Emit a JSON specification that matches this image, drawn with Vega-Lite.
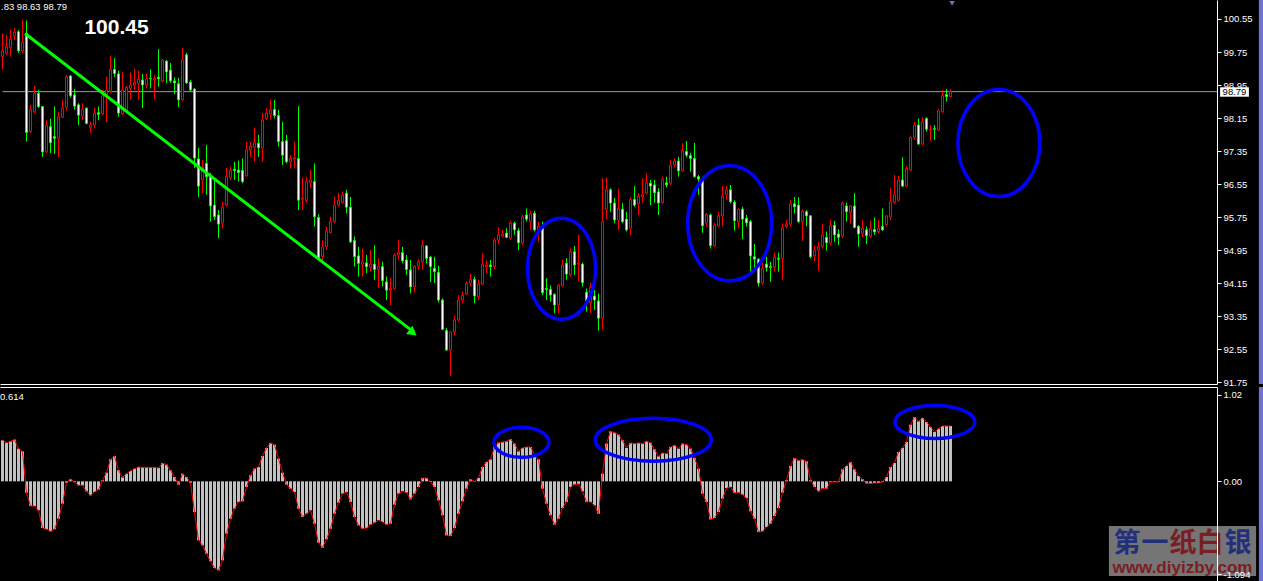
{
"$schema":"https://vega.github.io/schema/vega-lite/v6.json",
"background":"#000000",
"padding":0,
"bounds":"flush",
"spacing":3,
"config":{"view":{"stroke":null},"axis":{"grid":false,"labelOverlap":false},"scale":{"continuousPadding":0}},
"datasets":{
"candles":[
{"i":0,"o":99.64,"h":100.20,"l":99.33,"c":99.78},
{"i":1,"o":99.72,"h":100.16,"l":99.68,"c":99.88},
{"i":2,"o":99.86,"h":100.28,"l":99.64,"c":100.06},
{"i":3,"o":100.14,"h":100.33,"l":100.04,"c":100.23},
{"i":4,"o":100.24,"h":100.28,"l":99.73,"c":99.78},
{"i":5,"o":99.77,"h":100.53,"l":99.73,"c":99.99},
{"i":6,"o":100.20,"h":100.51,"l":97.58,"c":97.80},
{"i":7,"o":97.82,"h":98.47,"l":97.79,"c":98.35},
{"i":8,"o":98.30,"h":98.93,"l":98.27,"c":98.75},
{"i":9,"o":98.75,"h":98.83,"l":98.39,"c":98.43},
{"i":10,"o":98.43,"h":98.44,"l":97.21,"c":97.33},
{"i":11,"o":97.33,"h":98.10,"l":97.31,"c":97.98},
{"i":12,"o":97.94,"h":98.13,"l":97.30,"c":97.55},
{"i":13,"o":97.70,"h":98.43,"l":97.28,"c":97.66},
{"i":14,"o":97.66,"h":98.30,"l":97.20,"c":98.18},
{"i":15,"o":98.17,"h":98.59,"l":98.15,"c":98.39},
{"i":16,"o":98.41,"h":99.19,"l":98.33,"c":99.15},
{"i":17,"o":99.17,"h":99.19,"l":98.65,"c":98.69},
{"i":18,"o":98.71,"h":98.85,"l":98.35,"c":98.44},
{"i":19,"o":98.47,"h":98.51,"l":97.98,"c":98.22},
{"i":20,"o":98.20,"h":98.51,"l":98.10,"c":98.36},
{"i":21,"o":98.39,"h":98.41,"l":98.00,"c":98.02},
{"i":22,"o":97.92,"h":98.06,"l":97.79,"c":97.98},
{"i":23,"o":97.98,"h":98.41,"l":97.90,"c":98.27},
{"i":24,"o":98.28,"h":98.43,"l":98.10,"c":98.24},
{"i":25,"o":98.25,"h":98.83,"l":98.22,"c":98.69},
{"i":26,"o":98.67,"h":99.15,"l":98.05,"c":98.83},
{"i":27,"o":98.79,"h":99.65,"l":98.75,"c":99.33},
{"i":28,"o":99.33,"h":99.60,"l":99.15,"c":99.23},
{"i":29,"o":99.22,"h":99.30,"l":98.18,"c":98.27},
{"i":30,"o":98.25,"h":99.27,"l":98.22,"c":98.83},
{"i":31,"o":98.30,"h":98.93,"l":98.27,"c":98.89},
{"i":32,"o":98.87,"h":99.25,"l":98.59,"c":98.95},
{"i":33,"o":98.95,"h":99.34,"l":98.83,"c":99.01},
{"i":34,"o":98.98,"h":99.30,"l":98.59,"c":99.09},
{"i":35,"o":99.07,"h":99.22,"l":98.39,"c":98.95},
{"i":36,"o":98.95,"h":99.23,"l":98.87,"c":99.10},
{"i":37,"o":99.11,"h":99.33,"l":98.87,"c":99.10},
{"i":38,"o":99.07,"h":99.19,"l":98.61,"c":99.11},
{"i":39,"o":99.14,"h":99.82,"l":98.91,"c":99.10},
{"i":40,"o":99.05,"h":99.58,"l":99.02,"c":99.56},
{"i":41,"o":99.53,"h":99.56,"l":99.00,"c":99.27},
{"i":42,"o":99.31,"h":99.48,"l":99.00,"c":99.05},
{"i":43,"o":99.05,"h":99.14,"l":98.73,"c":99.00},
{"i":44,"o":98.98,"h":99.12,"l":98.42,"c":98.59},
{"i":45,"o":98.59,"h":99.85,"l":98.56,"c":99.56},
{"i":46,"o":99.68,"h":99.73,"l":98.98,"c":99.00},
{"i":47,"o":99.02,"h":99.07,"l":98.78,"c":98.83},
{"i":48,"o":98.85,"h":98.88,"l":96.94,"c":97.18},
{"i":49,"o":97.16,"h":97.43,"l":96.24,"c":96.50},
{"i":50,"o":96.65,"h":97.13,"l":96.33,"c":96.96},
{"i":51,"o":97.05,"h":97.50,"l":96.29,"c":96.73},
{"i":52,"o":96.73,"h":96.82,"l":95.64,"c":96.02},
{"i":53,"o":96.04,"h":96.70,"l":95.68,"c":95.76},
{"i":54,"o":95.80,"h":95.92,"l":95.24,"c":95.58},
{"i":55,"o":95.60,"h":96.12,"l":95.48,"c":96.00},
{"i":56,"o":96.04,"h":96.94,"l":96.00,"c":96.73},
{"i":57,"o":96.71,"h":96.97,"l":96.65,"c":96.89},
{"i":58,"o":96.91,"h":97.09,"l":96.65,"c":96.88},
{"i":59,"o":96.89,"h":97.12,"l":96.61,"c":96.83},
{"i":60,"o":96.88,"h":97.17,"l":96.57,"c":96.61},
{"i":61,"o":96.75,"h":97.58,"l":96.73,"c":97.38},
{"i":62,"o":97.38,"h":97.58,"l":97.21,"c":97.47},
{"i":63,"o":97.44,"h":97.92,"l":97.09,"c":97.56},
{"i":64,"o":97.54,"h":97.74,"l":97.21,"c":97.43},
{"i":65,"o":97.42,"h":98.27,"l":97.09,"c":98.10},
{"i":66,"o":98.14,"h":98.39,"l":98.10,"c":98.27},
{"i":67,"o":98.25,"h":98.59,"l":98.10,"c":98.35},
{"i":68,"o":98.36,"h":98.59,"l":98.14,"c":98.21},
{"i":69,"o":98.21,"h":98.35,"l":97.46,"c":97.58},
{"i":70,"o":97.58,"h":98.06,"l":97.01,"c":97.25},
{"i":71,"o":97.60,"h":97.74,"l":97.05,"c":97.09},
{"i":72,"o":97.09,"h":97.25,"l":96.93,"c":97.17},
{"i":73,"o":97.16,"h":97.58,"l":96.93,"c":97.19},
{"i":74,"o":97.17,"h":98.44,"l":95.92,"c":96.16},
{"i":75,"o":96.18,"h":96.71,"l":95.92,"c":96.22},
{"i":76,"o":96.15,"h":96.73,"l":96.10,"c":96.61},
{"i":77,"o":96.58,"h":96.89,"l":96.45,"c":96.65},
{"i":78,"o":96.61,"h":97.05,"l":95.52,"c":95.76},
{"i":79,"o":95.74,"h":95.82,"l":94.71,"c":94.75},
{"i":80,"o":94.79,"h":95.19,"l":94.71,"c":95.03},
{"i":81,"o":95.03,"h":95.52,"l":94.95,"c":95.42},
{"i":82,"o":95.37,"h":95.76,"l":95.36,"c":95.64},
{"i":83,"o":95.64,"h":96.24,"l":95.60,"c":96.04},
{"i":84,"o":96.04,"h":96.34,"l":96.00,"c":96.16},
{"i":85,"o":96.10,"h":96.37,"l":96.08,"c":96.29},
{"i":86,"o":96.33,"h":96.41,"l":95.84,"c":95.99},
{"i":87,"o":95.99,"h":96.24,"l":95.12,"c":95.15},
{"i":88,"o":95.18,"h":95.28,"l":94.55,"c":94.79},
{"i":89,"o":94.81,"h":95.03,"l":94.31,"c":94.63},
{"i":90,"o":94.61,"h":94.99,"l":94.31,"c":94.67},
{"i":91,"o":94.64,"h":94.83,"l":94.39,"c":94.55},
{"i":92,"o":94.53,"h":94.95,"l":94.43,"c":94.61},
{"i":93,"o":94.61,"h":95.07,"l":94.23,"c":94.48},
{"i":94,"o":94.48,"h":94.75,"l":94.03,"c":94.56},
{"i":95,"o":94.55,"h":94.67,"l":94.07,"c":94.21},
{"i":96,"o":94.18,"h":94.31,"l":93.74,"c":93.98},
{"i":97,"o":93.98,"h":94.27,"l":93.62,"c":94.02},
{"i":98,"o":94.02,"h":94.87,"l":94.00,"c":94.83},
{"i":99,"o":94.83,"h":95.19,"l":94.71,"c":94.90},
{"i":100,"o":94.89,"h":95.03,"l":94.63,"c":94.69},
{"i":101,"o":94.71,"h":94.83,"l":94.35,"c":94.48},
{"i":102,"o":94.47,"h":94.71,"l":93.90,"c":94.06},
{"i":103,"o":94.06,"h":94.59,"l":93.92,"c":94.56},
{"i":104,"o":94.56,"h":94.73,"l":94.47,"c":94.67},
{"i":105,"o":94.67,"h":95.19,"l":94.47,"c":95.07},
{"i":106,"o":95.05,"h":95.07,"l":94.63,"c":94.75},
{"i":107,"o":94.78,"h":94.81,"l":94.18,"c":94.55},
{"i":108,"o":94.51,"h":94.79,"l":94.15,"c":94.43},
{"i":109,"o":94.41,"h":94.57,"l":93.68,"c":93.74},
{"i":110,"o":93.74,"h":93.78,"l":93.01,"c":93.03},
{"i":111,"o":93.00,"h":93.06,"l":92.51,"c":92.53},
{"i":112,"o":92.53,"h":92.97,"l":91.90,"c":92.97},
{"i":113,"o":92.97,"h":93.35,"l":92.89,"c":93.26},
{"i":114,"o":93.26,"h":93.86,"l":93.22,"c":93.74},
{"i":115,"o":93.74,"h":93.94,"l":93.66,"c":93.86},
{"i":116,"o":93.89,"h":94.19,"l":93.86,"c":94.15},
{"i":117,"o":94.15,"h":94.37,"l":94.07,"c":94.24},
{"i":118,"o":94.24,"h":94.31,"l":93.66,"c":93.84},
{"i":119,"o":93.82,"h":94.23,"l":93.74,"c":94.13},
{"i":120,"o":94.13,"h":94.87,"l":94.11,"c":94.61},
{"i":121,"o":94.55,"h":94.70,"l":94.39,"c":94.59},
{"i":122,"o":94.59,"h":94.71,"l":94.31,"c":94.55},
{"i":123,"o":94.55,"h":95.24,"l":94.49,"c":95.19},
{"i":124,"o":95.19,"h":95.50,"l":95.10,"c":95.32},
{"i":125,"o":95.29,"h":95.44,"l":95.26,"c":95.34},
{"i":126,"o":95.36,"h":95.48,"l":95.24,"c":95.26},
{"i":127,"o":95.24,"h":95.66,"l":95.19,"c":95.61},
{"i":128,"o":95.60,"h":95.64,"l":95.32,"c":95.44},
{"i":129,"o":95.42,"h":95.48,"l":94.95,"c":95.13},
{"i":130,"o":95.12,"h":95.80,"l":95.07,"c":95.76},
{"i":131,"o":95.80,"h":95.96,"l":95.64,"c":95.70},
{"i":132,"o":95.64,"h":95.91,"l":95.44,"c":95.83},
{"i":133,"o":95.84,"h":95.90,"l":95.40,"c":95.44},
{"i":134,"o":95.44,"h":95.64,"l":95.15,"c":95.53},
{"i":135,"o":95.52,"h":95.64,"l":93.86,"c":93.92},
{"i":136,"o":94.02,"h":94.27,"l":93.74,"c":94.00},
{"i":137,"o":94.00,"h":94.10,"l":93.70,"c":93.86},
{"i":138,"o":93.88,"h":93.90,"l":93.42,"c":93.62},
{"i":139,"o":93.62,"h":94.13,"l":93.42,"c":94.10},
{"i":140,"o":94.08,"h":94.71,"l":94.07,"c":94.59},
{"i":141,"o":94.63,"h":94.75,"l":94.23,"c":94.37},
{"i":142,"o":94.35,"h":94.99,"l":94.31,"c":94.91},
{"i":143,"o":94.91,"h":95.05,"l":94.35,"c":94.59},
{"i":144,"o":94.61,"h":95.32,"l":94.19,"c":94.63},
{"i":145,"o":94.61,"h":94.65,"l":94.07,"c":94.16},
{"i":146,"o":93.93,"h":94.02,"l":93.46,"c":93.68},
{"i":147,"o":93.68,"h":94.15,"l":93.42,"c":94.05},
{"i":148,"o":93.84,"h":93.98,"l":93.50,"c":93.74},
{"i":149,"o":93.72,"h":93.90,"l":93.00,"c":93.30},
{"i":150,"o":93.30,"h":96.69,"l":93.03,"c":95.64},
{"i":151,"o":95.94,"h":96.71,"l":95.70,"c":96.41},
{"i":152,"o":96.41,"h":96.45,"l":95.88,"c":96.09},
{"i":153,"o":96.09,"h":96.21,"l":95.60,"c":95.68},
{"i":154,"o":95.68,"h":96.42,"l":95.44,"c":95.96},
{"i":155,"o":95.94,"h":96.09,"l":95.60,"c":95.64},
{"i":156,"o":95.70,"h":95.88,"l":95.40,"c":95.44},
{"i":157,"o":95.48,"h":96.24,"l":95.32,"c":96.18},
{"i":158,"o":96.18,"h":96.50,"l":96.00,"c":96.04},
{"i":159,"o":96.07,"h":96.33,"l":95.80,"c":96.26},
{"i":160,"o":96.24,"h":96.69,"l":96.10,"c":96.29},
{"i":161,"o":96.33,"h":96.81,"l":96.29,"c":96.58},
{"i":162,"o":96.57,"h":96.65,"l":96.04,"c":96.50},
{"i":163,"o":96.53,"h":96.65,"l":96.10,"c":96.34},
{"i":164,"o":96.36,"h":96.45,"l":95.80,"c":96.09},
{"i":165,"o":96.10,"h":96.73,"l":96.07,"c":96.67},
{"i":166,"o":96.58,"h":96.73,"l":96.47,"c":96.53},
{"i":167,"o":96.57,"h":97.13,"l":96.53,"c":97.01},
{"i":168,"o":97.01,"h":97.17,"l":96.96,"c":97.11},
{"i":169,"o":97.11,"h":97.21,"l":96.73,"c":96.87},
{"i":170,"o":96.87,"h":97.54,"l":96.85,"c":97.36},
{"i":171,"o":97.34,"h":97.59,"l":97.20,"c":97.25},
{"i":172,"o":97.24,"h":97.31,"l":96.85,"c":97.17},
{"i":173,"o":97.17,"h":97.55,"l":96.71,"c":96.73},
{"i":174,"o":96.73,"h":96.77,"l":96.29,"c":96.67},
{"i":175,"o":96.65,"h":96.73,"l":95.37,"c":95.54},
{"i":176,"o":95.60,"h":95.84,"l":95.52,"c":95.82},
{"i":177,"o":95.80,"h":95.84,"l":94.99,"c":95.06},
{"i":178,"o":95.06,"h":95.61,"l":95.03,"c":95.56},
{"i":179,"o":95.53,"h":95.88,"l":95.52,"c":95.78},
{"i":180,"o":95.78,"h":96.50,"l":95.53,"c":96.26},
{"i":181,"o":96.29,"h":96.50,"l":96.16,"c":96.41},
{"i":182,"o":96.41,"h":96.53,"l":96.08,"c":96.12},
{"i":183,"o":96.11,"h":96.16,"l":95.42,"c":95.66},
{"i":184,"o":95.64,"h":95.96,"l":95.48,"c":95.94},
{"i":185,"o":95.94,"h":96.00,"l":95.21,"c":95.70},
{"i":186,"o":95.72,"h":95.80,"l":95.52,"c":95.61},
{"i":187,"o":95.64,"h":95.68,"l":94.40,"c":94.81},
{"i":188,"o":94.79,"h":95.10,"l":94.51,"c":94.73},
{"i":189,"o":94.73,"h":94.75,"l":94.07,"c":94.15},
{"i":190,"o":94.15,"h":94.65,"l":94.11,"c":94.51},
{"i":191,"o":94.61,"h":94.79,"l":94.43,"c":94.53},
{"i":192,"o":94.55,"h":94.67,"l":94.18,"c":94.53},
{"i":193,"o":94.53,"h":94.89,"l":94.43,"c":94.78},
{"i":194,"o":94.75,"h":94.89,"l":94.43,"c":94.73},
{"i":195,"o":94.75,"h":95.60,"l":94.23,"c":95.49},
{"i":196,"o":95.52,"h":95.68,"l":95.48,"c":95.58},
{"i":197,"o":95.58,"h":96.16,"l":95.52,"c":96.07},
{"i":198,"o":96.07,"h":96.24,"l":95.84,"c":96.00},
{"i":199,"o":96.04,"h":96.23,"l":95.61,"c":95.64},
{"i":200,"o":95.64,"h":95.94,"l":95.18,"c":95.90},
{"i":201,"o":95.88,"h":95.92,"l":95.53,"c":95.78},
{"i":202,"o":95.78,"h":95.80,"l":94.75,"c":94.79},
{"i":203,"o":94.81,"h":95.05,"l":94.67,"c":94.95},
{"i":204,"o":94.95,"h":95.15,"l":94.45,"c":95.03},
{"i":205,"o":95.03,"h":95.58,"l":94.99,"c":95.32},
{"i":206,"o":95.26,"h":95.40,"l":94.94,"c":95.13},
{"i":207,"o":95.12,"h":95.68,"l":95.07,"c":95.55},
{"i":208,"o":95.55,"h":95.66,"l":95.15,"c":95.32},
{"i":209,"o":95.34,"h":95.45,"l":95.07,"c":95.26},
{"i":210,"o":95.29,"h":96.12,"l":95.24,"c":96.09},
{"i":211,"o":96.02,"h":96.10,"l":95.64,"c":95.88},
{"i":212,"o":95.86,"h":96.04,"l":95.60,"c":96.02},
{"i":213,"o":96.02,"h":96.33,"l":95.48,"c":95.50},
{"i":214,"o":95.52,"h":95.56,"l":95.03,"c":95.34},
{"i":215,"o":95.36,"h":95.68,"l":95.26,"c":95.48},
{"i":216,"o":95.44,"h":95.52,"l":95.10,"c":95.30},
{"i":217,"o":95.28,"h":95.66,"l":95.24,"c":95.48},
{"i":218,"o":95.45,"h":95.74,"l":95.32,"c":95.39},
{"i":219,"o":95.40,"h":95.68,"l":95.36,"c":95.48},
{"i":220,"o":95.52,"h":95.96,"l":95.42,"c":95.44},
{"i":221,"o":95.56,"h":95.80,"l":95.52,"c":95.78},
{"i":222,"o":95.75,"h":96.45,"l":95.68,"c":96.12},
{"i":223,"o":96.10,"h":96.77,"l":96.07,"c":96.29},
{"i":224,"o":96.16,"h":96.75,"l":96.12,"c":96.65},
{"i":225,"o":96.65,"h":97.20,"l":96.49,"c":96.50},
{"i":226,"o":96.50,"h":96.99,"l":96.47,"c":96.93},
{"i":227,"o":96.89,"h":97.71,"l":96.87,"c":97.68},
{"i":228,"o":97.68,"h":98.06,"l":97.63,"c":97.98},
{"i":229,"o":97.98,"h":98.14,"l":97.50,"c":97.52},
{"i":230,"o":97.52,"h":98.17,"l":97.50,"c":98.06},
{"i":231,"o":98.14,"h":98.17,"l":97.82,"c":97.88},
{"i":232,"o":97.86,"h":97.98,"l":97.60,"c":97.88},
{"i":233,"o":97.89,"h":97.98,"l":97.62,"c":97.88},
{"i":234,"o":97.86,"h":98.36,"l":97.84,"c":98.33},
{"i":235,"o":98.30,"h":98.83,"l":98.28,"c":98.69},
{"i":236,"o":98.72,"h":98.85,"l":98.55,"c":98.67},
{"i":237,"o":98.67,"h":98.85,"l":98.65,"c":98.79}
],
"osc":[
{"i":0,"v":0.483},{"i":1,"v":0.455},{"i":2,"v":0.471},{"i":3,"v":0.491},{"i":4,"v":0.385},{"i":5,"v":0.353},{"i":6,"v":-0.133},{"i":7,"v":-0.291},{"i":8,"v":-0.291},{"i":9,"v":-0.342},
{"i":10,"v":-0.550},{"i":11,"v":-0.565},{"i":12,"v":-0.589},{"i":13,"v":-0.565},{"i":14,"v":-0.440},{"i":15,"v":-0.263},{"i":16,"v":-0.016},{"i":17,"v":0.024},{"i":18,"v":-0.010},{"i":19,"v":-0.047},
{"i":20,"v":-0.047},{"i":21,"v":-0.118},{"i":22,"v":-0.165},{"i":23,"v":-0.126},{"i":24,"v":-0.098},{"i":25,"v":0.012},{"i":26,"v":0.102},{"i":27,"v":0.259},{"i":28,"v":0.298},{"i":29,"v":0.130},
{"i":30,"v":0.047},{"i":31,"v":0.090},{"i":32,"v":0.122},{"i":33,"v":0.149},{"i":34,"v":0.169},{"i":35,"v":0.165},{"i":36,"v":0.165},{"i":37,"v":0.165},{"i":38,"v":0.165},{"i":39,"v":0.157},
{"i":40,"v":0.216},{"i":41,"v":0.196},{"i":42,"v":0.130},{"i":43,"v":0.051},{"i":44,"v":-0.039},{"i":45,"v":0.090},{"i":46,"v":0.051},{"i":47,"v":-0.016},{"i":48,"v":-0.361},{"i":49,"v":-0.695},
{"i":50,"v":-0.754},{"i":51,"v":-0.852},{"i":52,"v":-0.942},{"i":53,"v":-1.021},{"i":54,"v":-1.048},{"i":55,"v":-0.931},{"i":56,"v":-0.616},{"i":57,"v":-0.440},{"i":58,"v":-0.322},{"i":59,"v":-0.243},
{"i":60,"v":-0.236},{"i":61,"v":-0.067},{"i":62,"v":0.071},{"i":63,"v":0.149},{"i":64,"v":0.169},{"i":65,"v":0.298},{"i":66,"v":0.393},{"i":67,"v":0.452},{"i":68,"v":0.432},{"i":69,"v":0.267},
{"i":70,"v":0.102},{"i":71,"v":-0.039},{"i":72,"v":-0.086},{"i":73,"v":-0.126},{"i":74,"v":-0.322},{"i":75,"v":-0.420},{"i":76,"v":-0.381},{"i":77,"v":-0.342},{"i":78,"v":-0.499},{"i":79,"v":-0.722},
{"i":80,"v":-0.781},{"i":81,"v":-0.683},{"i":82,"v":-0.558},{"i":83,"v":-0.381},{"i":84,"v":-0.251},{"i":85,"v":-0.145},{"i":86,"v":-0.126},{"i":87,"v":-0.243},{"i":88,"v":-0.420},{"i":89,"v":-0.518},
{"i":90,"v":-0.558},{"i":91,"v":-0.550},{"i":92,"v":-0.510},{"i":93,"v":-0.487},{"i":94,"v":-0.459},{"i":95,"v":-0.479},{"i":96,"v":-0.510},{"i":97,"v":-0.499},{"i":98,"v":-0.275},{"i":99,"v":-0.145},
{"i":100,"v":-0.118},{"i":101,"v":-0.133},{"i":102,"v":-0.212},{"i":103,"v":-0.145},{"i":104,"v":-0.067},{"i":105,"v":0.039},{"i":106,"v":0.039},{"i":107,"v":-0.008},{"i":108,"v":-0.067},{"i":109,"v":-0.224},
{"i":110,"v":-0.400},{"i":111,"v":-0.636},{"i":112,"v":-0.644},{"i":113,"v":-0.550},{"i":114,"v":-0.381},{"i":115,"v":-0.236},{"i":116,"v":-0.086},{"i":117,"v":0.024},{"i":118,"v":-0.004},{"i":119,"v":0.039},
{"i":120,"v":0.169},{"i":121,"v":0.228},{"i":122,"v":0.259},{"i":123,"v":0.404},{"i":124,"v":0.455},{"i":125,"v":0.463},{"i":126,"v":0.471},{"i":127,"v":0.495},{"i":128,"v":0.444},{"i":129,"v":0.353},
{"i":130,"v":0.393},{"i":131,"v":0.404},{"i":132,"v":0.404},{"i":133,"v":0.314},{"i":134,"v":0.259},{"i":135,"v":-0.086},{"i":136,"v":-0.263},{"i":137,"v":-0.400},{"i":138,"v":-0.510},{"i":139,"v":-0.440},
{"i":140,"v":-0.314},{"i":141,"v":-0.243},{"i":142,"v":-0.067},{"i":143,"v":-0.039},{"i":144,"v":-0.031},{"i":145,"v":-0.118},{"i":146,"v":-0.243},{"i":147,"v":-0.243},{"i":148,"v":-0.283},{"i":149,"v":-0.381},
{"i":150,"v":0.090},{"i":151,"v":0.444},{"i":152,"v":0.589},{"i":153,"v":0.573},{"i":154,"v":0.550},{"i":155,"v":0.483},{"i":156,"v":0.393},{"i":157,"v":0.452},{"i":158,"v":0.444},{"i":159,"v":0.452},
{"i":160,"v":0.444},{"i":161,"v":0.471},{"i":162,"v":0.455},{"i":163,"v":0.377},{"i":164,"v":0.294},{"i":165,"v":0.334},{"i":166,"v":0.326},{"i":167,"v":0.404},{"i":168,"v":0.424},{"i":169,"v":0.385},
{"i":170,"v":0.444},{"i":171,"v":0.432},{"i":172,"v":0.385},{"i":173,"v":0.275},{"i":174,"v":0.149},{"i":175,"v":-0.145},{"i":176,"v":-0.243},{"i":177,"v":-0.448},{"i":178,"v":-0.432},{"i":179,"v":-0.361},
{"i":180,"v":-0.204},{"i":181,"v":-0.079},{"i":182,"v":-0.067},{"i":183,"v":-0.137},{"i":184,"v":-0.133},{"i":185,"v":-0.157},{"i":186,"v":-0.196},{"i":187,"v":-0.353},{"i":188,"v":-0.440},{"i":189,"v":-0.597},
{"i":190,"v":-0.589},{"i":191,"v":-0.538},{"i":192,"v":-0.499},{"i":193,"v":-0.408},{"i":194,"v":-0.314},{"i":195,"v":-0.133},{"i":196,"v":0.012},{"i":197,"v":0.181},{"i":198,"v":0.275},{"i":199,"v":0.247},
{"i":200,"v":0.255},{"i":201,"v":0.236},{"i":202,"v":0.012},{"i":203,"v":-0.067},{"i":204,"v":-0.118},{"i":205,"v":-0.086},{"i":206,"v":-0.086},{"i":207,"v":-0.008},{"i":208,"v":-0.008},{"i":209,"v":-0.008},
{"i":210,"v":0.141},{"i":211,"v":0.181},{"i":212,"v":0.228},{"i":213,"v":0.141},{"i":214,"v":0.063},{"i":215,"v":0.024},{"i":216,"v":-0.024},{"i":217,"v":-0.024},{"i":218,"v":-0.020},{"i":219,"v":-0.020},
{"i":220,"v":-0.008},{"i":221,"v":0.051},{"i":222,"v":0.169},{"i":223,"v":0.216},{"i":224,"v":0.346},{"i":225,"v":0.393},{"i":226,"v":0.463},{"i":227,"v":0.667},{"i":228,"v":0.758},{"i":229,"v":0.707},
{"i":230,"v":0.746},{"i":231,"v":0.699},{"i":232,"v":0.640},{"i":233,"v":0.581},{"i":234,"v":0.620},{"i":235,"v":0.652},{"i":236,"v":0.652},{"i":237,"v":0.652}
]
},
"vconcat":[
{
"width":1217,"height":384,
"layer":[
{"data":{"values":[{}]},"mark":{"type":"rule","color":"#9a9a9a","strokeWidth":1},
 "encoding":{
  "x":{"datum":0,"type":"quantitative","scale":{"domain":[-0.625,303.625],"nice":false,"zero":false,"padding":0},
       "axis":{"orient":"bottom","labels":false,"ticks":false,"domain":true,"domainColor":"#ffffff","domainWidth":1,"grid":false,"title":null}},
  "x2":{"datum":303.625},
  "y":{"datum":98.79,"type":"quantitative","scale":{"domain":[91.706,101.01],"nice":false,"zero":false,"padding":0},
       "axis":{"orient":"right","values":[91.75,92.55,93.35,94.15,94.95,95.75,96.55,97.35,98.15,98.95,99.75,100.55],"tickCount":30,"format":".2f",
               "domainColor":"#ffffff","tickColor":"#ffffff","tickSize":4,"labelColor":"#ffffff","labelFont":"Liberation Sans","labelFontSize":9.5,
               "labelPadding":2,"labelOverlap":false,"labelFlush":false,"labelBound":false,"grid":false,"title":null}}}},
{"data":{"name":"candles"},"mark":{"type":"rule","strokeWidth":1},
 "encoding":{
  "x":{"field":"i","type":"quantitative","title":null},
  "y":{"field":"l","type":"quantitative","title":null},
  "y2":{"field":"h"},
  "color":{"condition":{"test":"datum.c < datum.o","value":"#00ff00"},"value":"#ff0000"}}},
{"data":{"name":"candles"},"mark":{"type":"bar","size":2,"strokeWidth":1},
 "encoding":{
  "x":{"field":"i","type":"quantitative","title":null},
  "y":{"field":"o","type":"quantitative","title":null},
  "y2":{"field":"c"},
  "fill":{"condition":{"test":"datum.c < datum.o","value":"#ffffff"},"value":"#000000"},
  "stroke":{"condition":{"test":"datum.c < datum.o","value":"#00ff00"},"value":"#ff0000"}}},
{"data":{"values":[{}]},"mark":{"type":"rule","color":"#00ff00","strokeWidth":3},
 "encoding":{"x":{"datum":5.625,"type":"quantitative"},"x2":{"datum":103.0},"y":{"datum":100.199,"type":"quantitative"},"y2":{"datum":92.95}}},
{"data":{"values":[{}]},"mark":{"type":"point","shape":"triangle-right","filled":true,"opacity":1,"color":"#00ff00","size":110,"angle":37.6},
 "encoding":{"x":{"datum":102.6,"type":"quantitative"},"y":{"datum":92.95,"type":"quantitative"}}},
{"data":{"values":[{}]},"mark":{"type":"text","text":"100.45","font":"Liberation Sans","fontSize":21,"fontWeight":"bold","color":"#ffffff","align":"center","baseline":"middle"},
 "encoding":{"x":{"datum":28.5,"type":"quantitative"},"y":{"datum":100.32,"type":"quantitative"}}},
{"data":{"values":[{}]},"mark":{"type":"text","text":".83 98.63 98.79","font":"Liberation Sans","fontSize":9.5,"color":"#ffffff","align":"left","baseline":"middle","dx":1},
 "encoding":{"x":{"datum":-0.625,"type":"quantitative"},"y":{"datum":100.85,"type":"quantitative"}}},
{"data":{"values":[{}]},"mark":{"type":"point","filled":false,"opacity":1,"color":"#0000ff","strokeWidth":3.5,"size":4,
  "shape":"M34,0C34,27.89,18.78,50.5,0,50.5C-18.78,50.5,-34,27.89,-34,0C-34,-27.89,-18.78,-50.5,0,-50.5C18.78,-50.5,34,-27.89,34,0Z"},
 "encoding":{"x":{"datum":139.75,"type":"quantitative"},"y":{"datum":94.497,"type":"quantitative"}}},
{"data":{"values":[{}]},"mark":{"type":"point","filled":false,"opacity":1,"color":"#0000ff","strokeWidth":3.5,"size":4,
  "shape":"M42,0C42,31.76,23.2,57.5,0,57.5C-23.2,57.5,-42,31.76,-42,0C-42,-31.76,-23.2,-57.5,0,-57.5C23.2,-57.5,42,-31.76,42,0Z"},
 "encoding":{"x":{"datum":181.8,"type":"quantitative"},"y":{"datum":95.60,"type":"quantitative"}}},
{"data":{"values":[{}]},"mark":{"type":"point","filled":false,"opacity":1,"color":"#0000ff","strokeWidth":3.5,"size":4,
  "shape":"M41,0C41,29.55,22.64,53.5,0,53.5C-22.64,53.5,-41,29.55,-41,0C-41,-29.55,-22.64,-53.5,0,-53.5C22.64,-53.5,41,-29.55,41,0Z"},
 "encoding":{"x":{"datum":249.1,"type":"quantitative"},"y":{"datum":97.545,"type":"quantitative"}}},
{"data":{"values":[{}]},"mark":{"type":"rect","color":"#ffffff"},
 "encoding":{"x":{"datum":304.4,"type":"quantitative"},"x2":{"datum":311.6},"y":{"datum":98.895,"type":"quantitative"},"y2":{"datum":98.667}}},
{"data":{"values":[{}]},"mark":{"type":"text","text":"98.79","font":"Liberation Sans","fontSize":9.5,"color":"#000000","align":"center","baseline":"middle"},
 "encoding":{"x":{"datum":308.0,"type":"quantitative"},"y":{"datum":98.78,"type":"quantitative"}}},
{"data":{"values":[{}]},"mark":{"type":"point","shape":"triangle-down","filled":true,"opacity":1,"color":"#76769a","size":30},
 "encoding":{"x":{"datum":237.4,"type":"quantitative"},"y":{"datum":100.93,"type":"quantitative"}}},
{"data":{"values":[{}]},"mark":{"type":"rect","color":"#7272d6"},
 "encoding":{"x":{"datum":314.1,"type":"quantitative"},"x2":{"datum":315.3},"y":{"datum":91.706,"type":"quantitative"},"y2":{"datum":101.01}}}
]
},
{
"width":1217,"height":194,
"layer":[
{"data":{"name":"osc"},"mark":{"type":"bar","size":3,"color":"#c0c0c0"},
 "encoding":{
  "x":{"field":"i","type":"quantitative","scale":{"domain":[-0.625,303.625],"nice":false,"zero":false,"padding":0},
       "axis":{"orient":"top","labels":false,"ticks":false,"domain":true,"domainColor":"#ffffff","domainWidth":1,"grid":false,"title":null}},
  "y":{"field":"v","type":"quantitative","scale":{"domain":[-1.174,1.111],"nice":false,"zero":false,"padding":0},
       "axis":{"orient":"right","values":[1.02,0,-1.094],"tickCount":30,"labelExpr":"datum.value == 0 ? '0.00' : (datum.value > 0 ? '1.02' : '-1.094')","zindex":1,
               "domainColor":"#ffffff","tickColor":"#ffffff","tickSize":4,"labelColor":"#ffffff","labelFont":"Liberation Sans","labelFontSize":9.5,
               "labelPadding":2,"labelOverlap":false,"labelFlush":false,"labelBound":false,"grid":false,"title":null}},
  "y2":{"datum":0}}},
{"data":{"name":"osc"},"mark":{"type":"line","color":"#ff0000","strokeWidth":1},
 "encoding":{"x":{"field":"i","type":"quantitative","title":null},"y":{"field":"v","type":"quantitative","title":null}}},
{"data":{"values":[{}]},"mark":{"type":"text","text":"0.614","font":"Liberation Sans","fontSize":9.5,"color":"#ffffff","align":"left","baseline":"middle","dx":0},
 "encoding":{"x":{"datum":-0.625,"type":"quantitative"},"y":{"datum":0.996,"type":"quantitative"}}},
{"data":{"values":[{}]},"mark":{"type":"point","filled":false,"opacity":1,"color":"#0000ff","strokeWidth":3.5,"size":4,
  "shape":"M27.5,0C27.5,8.28,15.19,15,0,15C-15.19,15,-27.5,8.28,-27.5,0C-27.5,-8.28,-15.19,-15,0,-15C15.19,-15,27.5,-8.28,27.5,0Z"},
 "encoding":{"x":{"datum":129.75,"type":"quantitative"},"y":{"datum":0.459,"type":"quantitative"}}},
{"data":{"values":[{}]},"mark":{"type":"point","filled":false,"opacity":1,"color":"#0000ff","strokeWidth":3.5,"size":4,
  "shape":"M58,0C58,11.87,32.03,21.5,0,21.5C-32.03,21.5,-58,11.87,-58,0C-58,-11.87,-32.03,-21.5,0,-21.5C32.03,-21.5,58,-11.87,58,0Z"},
 "encoding":{"x":{"datum":162.7,"type":"quantitative"},"y":{"datum":0.490,"type":"quantitative"}}},
{"data":{"values":[{}]},"mark":{"type":"point","filled":false,"opacity":1,"color":"#0000ff","strokeWidth":3.5,"size":4,
  "shape":"M40,0C40,9.11,22.09,16.5,0,16.5C-22.09,16.5,-40,9.11,-40,0C-40,-9.11,-22.09,-16.5,0,-16.5C22.09,-16.5,40,-9.11,40,0Z"},
 "encoding":{"x":{"datum":233.1,"type":"quantitative"},"y":{"datum":0.698,"type":"quantitative"}}},
{"data":{"values":[{}]},"mark":{"type":"rect","color":"#7272d6"},
 "encoding":{"x":{"datum":314.1,"type":"quantitative"},"x2":{"datum":315.3},"y":{"datum":-1.174,"type":"quantitative"},"y2":{"datum":1.111}}},
{"data":{"values":[{}]},"mark":{"type":"rect","color":"#8a8a8a","opacity":0.85},
 "encoding":{"x":{"datum":276.6,"type":"quantitative"},"x2":{"datum":313.4},"y":{"datum":-0.527,"type":"quantitative"},"y2":{"datum":-1.115}}},
{"data":{"values":[{}]},"mark":{"type":"text","text":"第","font":"Noto Sans CJK SC","fontSize":27,"fontWeight":"bold","color":"#22307a","align":"center","baseline":"middle"},
 "encoding":{"x":{"datum":281.1,"type":"quantitative"},"y":{"datum":-0.739,"type":"quantitative"}}},
{"data":{"values":[{}]},"mark":{"type":"text","text":"一","font":"Noto Sans CJK SC","fontSize":27,"fontWeight":"bold","color":"#22307a","align":"center","baseline":"middle"},
 "encoding":{"x":{"datum":288.1,"type":"quantitative"},"y":{"datum":-0.739,"type":"quantitative"}}},
{"data":{"values":[{}]},"mark":{"type":"text","text":"纸","font":"Noto Sans CJK SC","fontSize":27,"fontWeight":"bold","color":"#7a1e22","align":"center","baseline":"middle"},
 "encoding":{"x":{"datum":295.1,"type":"quantitative"},"y":{"datum":-0.739,"type":"quantitative"}}},
{"data":{"values":[{}]},"mark":{"type":"text","text":"白","font":"Noto Sans CJK SC","fontSize":27,"fontWeight":"bold","color":"#7a1e22","align":"center","baseline":"middle"},
 "encoding":{"x":{"datum":301.9,"type":"quantitative"},"y":{"datum":-0.739,"type":"quantitative"}}},
{"data":{"values":[{}]},"mark":{"type":"text","text":"银","font":"Noto Sans CJK SC","fontSize":27,"fontWeight":"bold","color":"#22307a","align":"center","baseline":"middle"},
 "encoding":{"x":{"datum":308.9,"type":"quantitative"},"y":{"datum":-0.739,"type":"quantitative"}}},
{"data":{"values":[{}]},"mark":{"type":"text","text":"www.diyizby.com","font":"Liberation Sans","fontSize":17,"fontWeight":"bold","color":"#7a1e22","align":"center","baseline":"middle"},
 "encoding":{"x":{"datum":295.0,"type":"quantitative"},"y":{"datum":-1.015,"type":"quantitative"}}}
]
}
]
}
